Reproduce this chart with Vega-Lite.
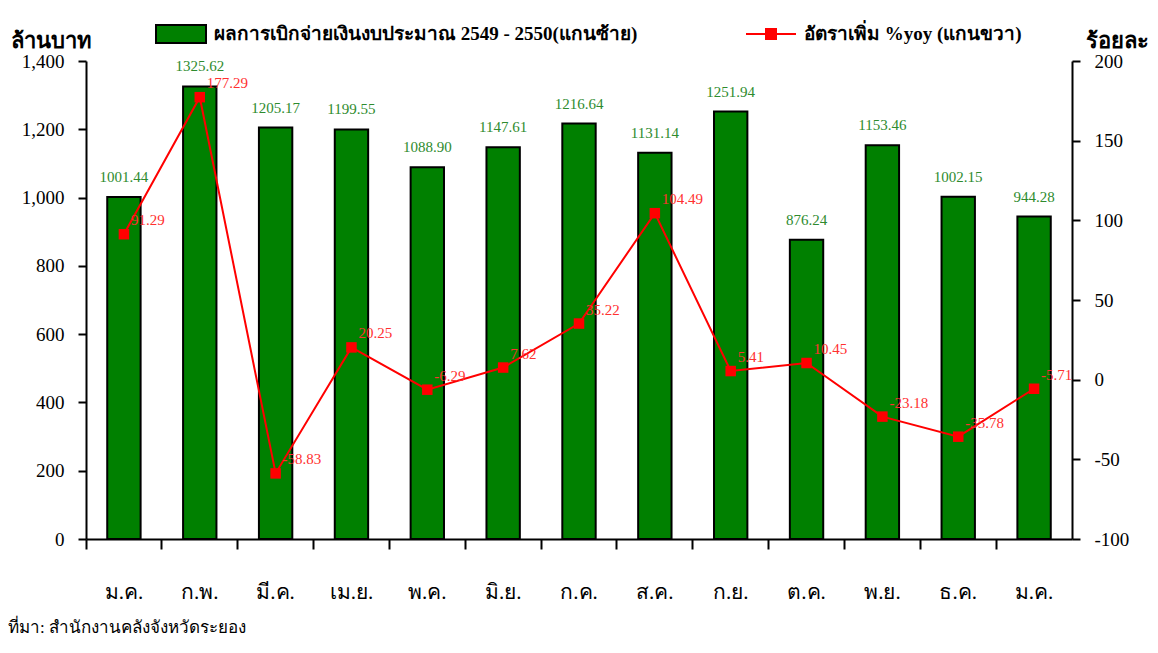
{
  "$schema": "https://vega.github.io/schema/vega-lite/v6.json",
  "width": 986,
  "height": 478,
  "autosize": {"type": "none"},
  "padding": {"left": 86, "top": 61, "right": 86, "bottom": 114},
  "background": "white",
  "config": {"view": {"stroke": null}, "font": "Liberation Serif",
    "locale": {"number": {"decimal": ".", "thousands": ",", "grouping": [3], "currency": ["", ""], "minus": "-"}}},
  "title": {"text": "ที่มา: สำนักงานคลังจังหวัดระยอง", "orient": "bottom", "anchor": "start", "frame": "group", "dx": -78, "offset": 18, "fontSize": 17, "fontWeight": "normal", "font": "Liberation Serif", "color": "black"},
  "data": {"values": [
    {"month": "ม.ค.", "budget": 1001.44, "yoy": 91.29},
    {"month": "ก.พ.", "budget": 1325.62, "yoy": 177.29},
    {"month": "มี.ค.", "budget": 1205.17, "yoy": -58.83},
    {"month": "เม.ย.", "budget": 1199.55, "yoy": 20.25},
    {"month": "พ.ค.", "budget": 1088.90, "yoy": -6.29},
    {"month": "มิ.ย.", "budget": 1147.61, "yoy": 7.62},
    {"month": "ก.ค.", "budget": 1216.64, "yoy": 35.22},
    {"month": "ส.ค.", "budget": 1131.14, "yoy": 104.49},
    {"month": "ก.ย.", "budget": 1251.94, "yoy": 5.41},
    {"month": "ต.ค.", "budget": 876.24, "yoy": 10.45},
    {"month": "พ.ย.", "budget": 1153.46, "yoy": -23.18},
    {"month": "ธ.ค.", "budget": 1002.15, "yoy": -35.78},
    {"month": "ม.ค.#2", "budget": 944.28, "yoy": -5.71}
  ]},
  "layer": [
    {
      "layer": [
        {
          "mark": {"type": "bar", "stroke": "black", "strokeWidth": 2},
          "encoding": {
            "x": {"field": "month", "type": "nominal", "sort": null,
              "scale": {"paddingInner": 0.56, "paddingOuter": 0.28},
              "axis": {"orient": "bottom", "labels": false, "bandPosition": -0.636, "tickSize": 10, "domainColor": "black", "domainWidth": 2, "tickColor": "black", "tickWidth": 2, "title": null}},
            "y": {"field": "budget", "type": "quantitative",
              "scale": {"domain": [0, 1400], "nice": false, "zero": false},
              "axis": {"orient": "left", "values": [0, 200, 400, 600, 800, 1000, 1200, 1400], "format": ",.0f", "title": "ล้านบาท", "titleAngle": 0, "titleAlign": "left", "titleBaseline": "alphabetic", "titleX": -76, "titleY": -14, "titleFontSize": 22, "titleFontWeight": "bold", "titleFont": "Liberation Serif", "titleColor": "black", "labelFontSize": 19, "labelFont": "Liberation Serif", "labelColor": "black", "tickColor": "black", "domainColor": "black", "tickSize": 8, "labelPadding": 14, "grid": false, "domainWidth": 2, "tickWidth": 2}},
            "fill": {"datum": "ผลการเบิกจ่ายเงินงบประมาณ 2549 - 2550(แกนซ้าย)", "type": "nominal",
              "scale": {"range": ["#008000"]},
              "legend": {"orient": "none", "legendX": 69, "legendY": -53, "title": null, "padding": 0, "symbolType": "M-1,-0.36h2v0.72h-2z", "symbolSize": 2500, "symbolStrokeColor": "black", "symbolStrokeWidth": 2, "symbolOpacity": 1, "labelFont": "Liberation Serif", "labelFontSize": 19, "labelFontWeight": "bold", "labelColor": "black", "labelOffset": 7, "labelLimit": 600}}
          }
        },
        {
          "mark": {"type": "text", "dy": -20, "fontSize": 15, "color": "#2e8b2e", "font": "Liberation Serif"},
          "encoding": {
            "x": {"field": "month", "type": "nominal", "sort": null},
            "y": {"field": "budget", "type": "quantitative"},
            "text": {"field": "budget", "type": "quantitative", "format": ".2f"}
          }
        }
      ]
    },
    {
      "layer": [
        {
          "mark": {"type": "line", "strokeWidth": 2},
          "encoding": {
            "x": {"field": "month", "type": "nominal", "sort": null,
              "axis": {"orient": "bottom", "ticks": false, "domain": false, "labelPadding": 42, "labelFontSize": 21, "labelAngle": 0, "labelColor": "black", "labelFont": "Liberation Serif", "labelExpr": "replace(datum.label, '#2', '')", "title": null}},
            "y": {"field": "yoy", "type": "quantitative",
              "scale": {"domain": [-100, 200], "nice": false, "zero": false},
              "axis": {"orient": "right", "values": [-100, -50, 0, 50, 100, 150, 200], "format": "d", "title": "ร้อยละ", "titleAngle": 0, "titleAlign": "left", "titleBaseline": "alphabetic", "titleX": 13, "titleY": -14, "titleFontSize": 22, "titleFontWeight": "bold", "titleFont": "Liberation Serif", "titleColor": "black", "labelFontSize": 19, "labelFont": "Liberation Serif", "labelColor": "black", "tickColor": "black", "domainColor": "black", "tickSize": 8, "labelPadding": 14, "grid": false, "domainWidth": 2, "tickWidth": 2}},
            "stroke": {"datum": "อัตราเพิ่ม %yoy (แกนขวา)", "type": "nominal",
              "scale": {"range": ["#ff0000"]},
              "legend": {"orient": "none", "legendX": 659, "legendY": -53, "title": null, "padding": 0, "symbolType": "M-1,0H1M-0.2,-0.2H0.2V0.2H-0.2Z", "symbolSize": 2500, "symbolFillColor": "#ff0000", "symbolStrokeWidth": 2, "labelFont": "Liberation Serif", "labelFontSize": 19, "labelFontWeight": "bold", "labelColor": "black", "labelOffset": 7, "labelLimit": 400}}
          }
        },
        {
          "mark": {"type": "point", "shape": "square", "size": 110, "filled": true, "color": "#ff0000", "opacity": 1},
          "encoding": {
            "x": {"field": "month", "type": "nominal", "sort": null},
            "y": {"field": "yoy", "type": "quantitative"}
          }
        },
        {
          "mark": {"type": "text", "align": "left", "dx": 7, "dy": -14, "fontSize": 15, "color": "#ff3030", "font": "Liberation Serif"},
          "encoding": {
            "x": {"field": "month", "type": "nominal", "sort": null},
            "y": {"field": "yoy", "type": "quantitative"},
            "text": {"field": "yoy", "type": "quantitative", "format": ".2f"}
          }
        }
      ]
    }
  ],
  "resolve": {"scale": {"y": "independent"}, "axis": {"x": "independent", "y": "independent"}}
}
